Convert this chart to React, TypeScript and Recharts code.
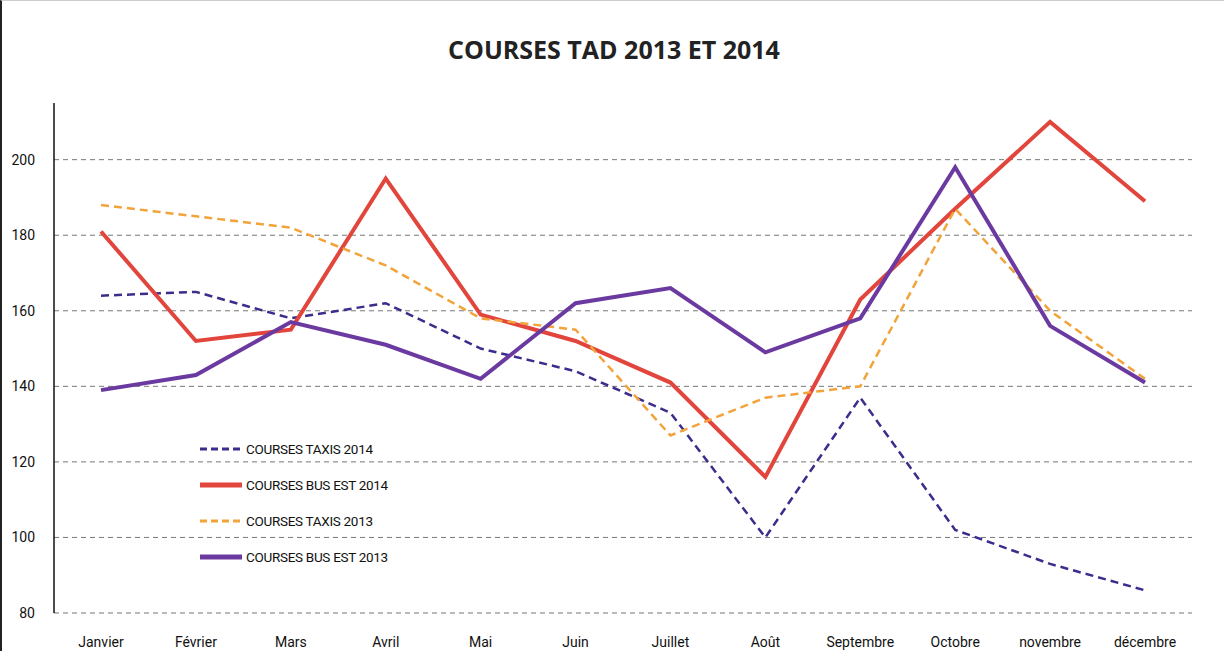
import React from 'react';
import { LineChart, Line, XAxis, YAxis, CartesianGrid } from 'recharts';

const months = ['Janvier', 'Février', 'Mars', 'Avril', 'Mai', 'Juin', 'Juillet', 'Août', 'Septembre', 'Octobre', 'novembre', 'décembre'];
const taxis2014 = [164, 165, 158, 162, 150, 144, 133, 100, 137, 102, 93, 86];
const bus2014 = [181, 152, 155, 195, 159, 152, 141, 116, 163, 187, 210, 189];
const taxis2013 = [188, 185, 182, 172, 158, 155, 127, 137, 140, 187, 160, 142];
const bus2013 = [139, 143, 157, 151, 142, 162, 166, 149, 158, 198, 156, 141];
const yTicks = [80, 100, 120, 140, 160, 180, 200];
const yDomain = [80, 215];

const data = months.map((m, i) => ({
  month: m,
  taxis2014: taxis2014[i],
  bus2014: bus2014[i],
  taxis2013: taxis2013[i],
  bus2013: bus2013[i],
}));

const FONT = 'Roboto, "Open Sans", sans-serif';

const series = [
  { key: 'taxis2014', name: 'COURSES TAXIS 2014', color: '#3d2c8c', width: 2.5, dash: '8 5' },
  { key: 'bus2014', name: 'COURSES BUS EST 2014', color: '#e2453c', width: 4, dash: undefined },
  { key: 'taxis2013', name: 'COURSES TAXIS 2013', color: '#f2a33a', width: 2.5, dash: '8 5' },
  { key: 'bus2013', name: 'COURSES BUS EST 2013', color: '#6b3aa0', width: 4, dash: undefined },
];

// grid only at the labelled ticks, not at the top of the domain
const gridLines = ({ yAxis, offset }: any) => {
  if (yAxis && typeof yAxis.scale === 'function') return yTicks.map((t) => yAxis.scale(t));
  return yTicks.map((t) => offset.top + (offset.height * (yDomain[1] - t)) / (yDomain[1] - yDomain[0]));
};

const LegendBox = () => (
  <div style={{ position: 'absolute', left: 196, top: 430, fontFamily: FONT, fontSize: 13.5, letterSpacing: -0.3, color: '#111', zIndex: 2 }}>
    {series.map((s) => (
      <div key={s.key} style={{ display: 'flex', alignItems: 'center', height: 36 }}>
        <svg width={46} height={10}>
          <line x1={2} y1={5} x2={44} y2={5} stroke={s.color} strokeWidth={s.dash ? 3 : 5} strokeDasharray={s.dash ? '7 4' : undefined} />
        </svg>
        <span style={{ marginLeft: 2 }}>{s.name}</span>
      </div>
    ))}
  </div>
);

export default function App() {
  return (
    <div style={{ position: 'absolute', left: 0, top: 0, width: 1224, height: 651, background: '#fff', boxSizing: 'border-box', borderLeft: '2px solid #222', borderTop: '1px solid #ccc' }}>
      <div style={{ position: 'absolute', left: 0, top: 31, width: 1224, textAlign: 'center', fontFamily: '"Open Sans", sans-serif', fontWeight: 'bold', fontSize: 25, color: '#222' }}>
        COURSES TAD 2013 ET 2014
      </div>
      <LineChart width={1222} height={650} data={data} margin={{ top: 102, right: 32, left: 0, bottom: 8 }} style={{ position: 'absolute', left: 0, top: 0 }}>
        <CartesianGrid vertical={false} stroke="#777" strokeDasharray="5 4" horizontalCoordinatesGenerator={gridLines} />
        <XAxis dataKey="month" padding={{ left: 47, right: 47 }} axisLine={false} tickLine={false} tickMargin={18} tick={{ fontFamily: FONT, fontSize: 14, fill: '#111' }} interval={0} />
        <YAxis domain={yDomain} ticks={yTicks} width={52} axisLine={{ stroke: '#111', strokeWidth: 1.5 }} tickLine={false} tickMargin={13} tick={{ fontFamily: FONT, fontSize: 14, fill: '#111' }} />
        {series.map((s) => (
          <Line key={s.key} type="linear" dataKey={s.key} name={s.name} stroke={s.color} strokeWidth={s.width} strokeDasharray={s.dash} dot={false} isAnimationActive={false} />
        ))}
      </LineChart>
      <LegendBox />
    </div>
  );
}
